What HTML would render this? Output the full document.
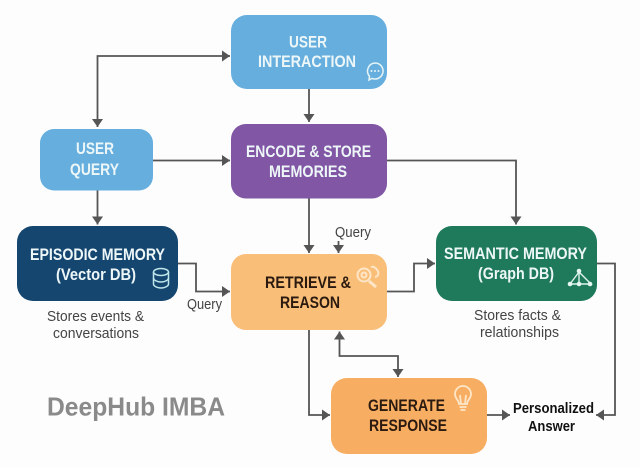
<!DOCTYPE html>
<html><head><meta charset="utf-8">
<style>
html,body{margin:0;padding:0;background:#fdfdfd;width:640px;height:468px;overflow:hidden}
svg{display:block}
text{font-family:"Liberation Sans",sans-serif;text-anchor:start}
.b{font-weight:bold;font-size:17px}
.w{fill:#eef7f8}
.d{fill:#2a1a10}
.r{font-size:14.500px;fill:#444}
</style></head><body>
<svg width="640" height="468" viewBox="0 0 640 468" xmlns="http://www.w3.org/2000/svg">
<defs>
<marker id="a" markerUnits="userSpaceOnUse" markerWidth="10" markerHeight="12" refX="8" refY="5.500" orient="auto-start-reverse"><path d="M0 0L8 5.500L0 11Z" fill="#555"/></marker>
</defs>
<rect width="640" height="468" fill="#fdfdfd"/>
<rect x="231" y="15" width="156" height="74" rx="16" fill="#65aede"/>
<rect x="40" y="129" width="113" height="61.500" rx="14" fill="#65aede"/>
<rect x="231" y="124" width="156" height="74.500" rx="15" fill="#8056a5"/>
<rect x="17" y="226" width="161" height="75" rx="16" fill="#15466f"/>
<rect x="231" y="254" width="156" height="76" rx="15" fill="#f9be78"/>
<rect x="436" y="226" width="161" height="75" rx="16" fill="#1e7a5a"/>
<rect x="331" y="378" width="156" height="76" rx="16" fill="#f8ae62"/>

<g fill="none" stroke="#555" stroke-width="1.800">
<path d="M97.500 127V56H230" marker-start="url(#a)" marker-end="url(#a)"/>
<path d="M309 89V122" marker-end="url(#a)"/>
<path d="M153 160.500H230" marker-end="url(#a)"/>
<path d="M97.500 190.500V224.500" marker-end="url(#a)"/>
<path d="M178 263.500H196V291.500H230" marker-end="url(#a)"/>
<path d="M309 198.500V253" marker-end="url(#a)"/>
<path d="M338.500 241V253" marker-end="url(#a)"/>
<path d="M387 160.500H516V224.500" marker-end="url(#a)"/>
<path d="M387 291.500H414V263.500H435" marker-end="url(#a)"/>
<path d="M597 263.500H615V415H596" marker-end="url(#a)"/>
<path d="M339.500 331.500V356H398V377" marker-start="url(#a)" marker-end="url(#a)"/>
<path d="M309 330V415H330" marker-end="url(#a)"/>
<path d="M487 415H510" marker-end="url(#a)"/>
</g>

<text class="b w" x="289" y="47.500" textLength="38" lengthAdjust="spacingAndGlyphs">USER</text>
<text class="b w" x="258" y="67" textLength="98" lengthAdjust="spacingAndGlyphs">INTERACTION</text>
<text class="b w" x="76" y="154" textLength="38" lengthAdjust="spacingAndGlyphs">USER</text>
<text class="b w" x="70" y="175" textLength="49" lengthAdjust="spacingAndGlyphs">QUERY</text>
<text class="b w" x="246" y="157" textLength="125" lengthAdjust="spacingAndGlyphs">ENCODE &amp; STORE</text>
<text class="b w" x="269" y="177" textLength="78" lengthAdjust="spacingAndGlyphs">MEMORIES</text>
<text class="b w" x="30" y="260" textLength="135" lengthAdjust="spacingAndGlyphs">EPISODIC MEMORY</text>
<text class="b w" x="56" y="280" textLength="80" lengthAdjust="spacingAndGlyphs">(Vector DB)</text>
<text class="b d" x="265" y="288" textLength="86" lengthAdjust="spacingAndGlyphs">RETRIEVE &amp;</text>
<text class="b d" x="280" y="308" textLength="60" lengthAdjust="spacingAndGlyphs">REASON</text>
<text class="b w" x="444" y="259" textLength="143" lengthAdjust="spacingAndGlyphs">SEMANTIC MEMORY</text>
<text class="b w" x="478" y="279" textLength="76" lengthAdjust="spacingAndGlyphs">(Graph DB)</text>
<text class="b d" x="368" y="411" textLength="77" lengthAdjust="spacingAndGlyphs">GENERATE</text>
<text class="b d" x="369" y="431" textLength="78" lengthAdjust="spacingAndGlyphs">RESPONSE</text>

<text class="r" x="47" y="321" textLength="97" lengthAdjust="spacingAndGlyphs">Stores events &amp;</text>
<text class="r" x="53" y="338" textLength="86" lengthAdjust="spacingAndGlyphs">conversations</text>
<text class="r" x="474" y="320" textLength="87" lengthAdjust="spacingAndGlyphs">Stores facts &amp;</text>
<text class="r" x="480" y="337" textLength="79" lengthAdjust="spacingAndGlyphs">relationships</text>
<text class="r" x="187" y="309" textLength="35" lengthAdjust="spacingAndGlyphs">Query</text>
<text class="r" x="335" y="237" textLength="36" lengthAdjust="spacingAndGlyphs">Query</text>
<text x="513" y="413" font-size="15" font-weight="bold" fill="#111" textLength="81" lengthAdjust="spacingAndGlyphs">Personalized</text>
<text x="528" y="431" font-size="15" font-weight="bold" fill="#111" textLength="47" lengthAdjust="spacingAndGlyphs">Answer</text>
<text x="47" y="415.500" font-size="26" font-weight="bold" fill="#8a8a8a" textLength="178" lengthAdjust="spacingAndGlyphs">DeepHub IMBA</text>

<!-- chat icon -->
<g fill="none" stroke="#e6f4f6" stroke-width="1.500">
<path d="M375 63a8 8 0 1 1-3 15.400l-3 1.600 .5-3.800A8 8 0 0 1 375 63Z"/>
</g>
<g fill="#e6f4f6"><circle cx="371.500" cy="71" r="1"/><circle cx="375" cy="71" r="1"/><circle cx="378.500" cy="71" r="1"/></g>
<!-- db icon -->
<g fill="none" stroke="#bfe6ea" stroke-width="1.500">
<ellipse cx="161" cy="272" rx="7.500" ry="3.500"/>
<path d="M153.500 272V284C153.500 286 157 288 161 288S168.500 286 168.500 284V272"/>
<path d="M153.500 278C153.500 280 157 282 161 282S168.500 280 168.500 278"/>
</g>
<!-- magnifier icon -->
<g fill="none" stroke="#fde6c8" stroke-width="2">
<circle cx="364" cy="275" r="6.500"/>
<circle cx="364" cy="275" r="2.500"/>
<path d="M369 281L376 287" stroke-width="3"/>
<path d="M371 267a5 5 0 0 1 6 3a4 4 0 0 1 -2 7"/>
</g>
<!-- bulb icon -->
<g fill="none" stroke="#fde6c8" stroke-width="1.800">
<path d="M459 404C459 400 455 399 455 394A8 8 0 0 1 471 394C471 399 467 400 467 404Z"/>
<path d="M459.500 407H466.500M460.500 410H465.500M461 404L460 395M465 404L466 395"/>
</g>
<!-- graph icon -->
<g stroke="#dff3ec" stroke-width="1.400" fill="none">
<path d="M579 272L570 284H591Z M579 272V284"/>
</g>
<g fill="#e6f6f0"><circle cx="579" cy="271" r="2.300"/><circle cx="570" cy="284" r="2.300"/><circle cx="579" cy="284" r="2.300"/><circle cx="590" cy="284" r="2.300"/></g>
</svg>
</body></html>
